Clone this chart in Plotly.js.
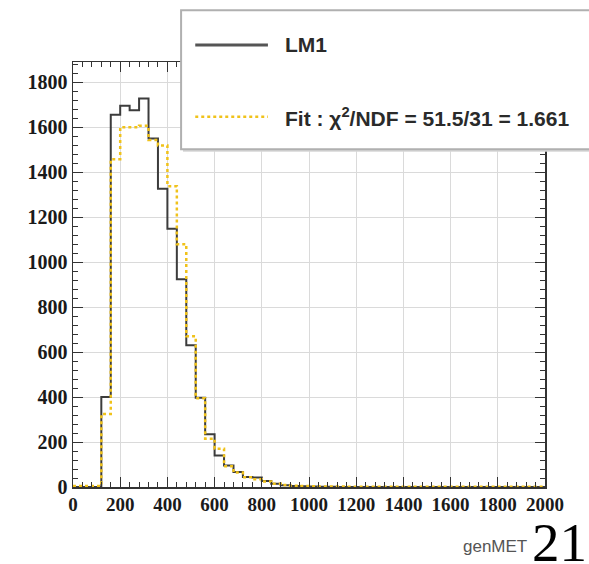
<!DOCTYPE html>
<html>
<head>
<meta charset="utf-8">
<script src="https://cdn.plot.ly/plotly-3.0.1.min.js"></script>
<style>html,body{margin:0;padding:0;background:#fff;}#chart{width:589px;height:564px;}</style>
</head>
<body>
<div id="chart"></div>
<script>
// Bin edges of the genMET histogram (GeV), 50 bins of width 40
const binEdges = [0,40,80,120,160,200,240,280,320,360,400,440,480,520,560,600,640,680,720,760,
  800,840,880,920,960,1000,1040,1080,1120,1160,1200,1240,1280,1320,1360,1400,1440,1480,1520,1560,
  1600,1640,1680,1720,1760,1800,1840,1880,1920,1960,2000];
// LM1 histogram contents per bin
const lm1Counts = [0,0,0,400,1655,1695,1675,1728,1550,1326,1148,924,630,397,235,140,96,67,45,42,
  27,15,8,5,3,2,1,1,0,0,0,0,0,0,0,0,0,0,0,0,0,0,0,0,0,0,0,0,0,0];
// Fit contents per bin
const fitCounts = [5,5,5,325,1458,1600,1600,1607,1543,1519,1338,1080,670,395,215,170,92,64,43,35,
  25,15,9,6,4,3,2,2,2,1,1,1,1,1,1,1,1,1,1,1,1,1,1,1,1,1,1,1,1,1];
const xTicks = [0,200,400,600,800,1000,1200,1400,1600,1800,2000];
const yTicks = [0,200,400,600,800,1000,1200,1400,1600,1800];
const legendLabels = ["LM1", "Fit : \u03C7<sup>2</sup>/NDF = 51.5/31 = 1.661"];
const xTitle = "genMET";
const pageNumber = "21";

function stepY(counts){ return counts.concat([counts[counts.length-1]]); }

const traces = [
  {x: binEdges, y: stepY(lm1Counts), type: 'scatter', mode: 'lines', name: legendLabels[0],
   line: {shape: 'hv', color: '#3c3c3c', width: 2}, showlegend: false, cliponaxis: true},
  {x: binEdges, y: stepY(fitCounts), type: 'scatter', mode: 'lines', name: 'Fit',
   line: {shape: 'hv', color: '#f0c21a', width: 2.5, dash: 'dot'}, showlegend: false, cliponaxis: true}
];

const tickFontX = {family: '"Liberation Serif", "Times New Roman", serif', size: 19, color: '#1a1a1a', weight: 'bold'};
const tickFontY = {family: '"Liberation Serif", "Times New Roman", serif', size: 20, color: '#1a1a1a', weight: 'bold'};
const axisCommon = {
  showline: true, linecolor: '#333', linewidth: 1.5, mirror: 'allticks',
  ticks: 'inside', ticklen: 10, tickcolor: '#333', tickwidth: 1,
  showgrid: true, gridcolor: '#dadada', gridwidth: 1, zeroline: false,
  minor: {dtick: 40, ticks: 'inside', ticklen: 5, tickcolor: '#333', showgrid: false}
};

// legend box geometry in paper coords
const legBox = {x0: 0.229, x1: 1.12, y0: 0.795, y1: 1.122};
const legRows = [1.04, 0.871];
const legFont = {family: '"Liberation Sans", Arial, sans-serif', size: 21, color: '#2a2a2a'};

const layout = {
  width: 589, height: 564,
  margin: {l: 73, r: 44, t: 62, b: 77},
  paper_bgcolor: '#fff', plot_bgcolor: '#fff',
  showlegend: false,
  xaxis: Object.assign({}, axisCommon, {range: [0, 2000], tickvals: xTicks, ticktext: xTicks.map(String), tickfont: tickFontX}),
  yaxis: Object.assign({}, axisCommon, {range: [0, 1890], tickvals: yTicks, ticktext: yTicks.map(String), tickfont: tickFontY}),
  shapes: [
    {type: 'rect', xref: 'paper', yref: 'paper', x0: legBox.x0+0.004, x1: legBox.x1, y0: legBox.y0-0.006, y1: legBox.y1-0.006,
     fillcolor: '#d6d6d6', line: {width: 0}, layer: 'above'},
    {type: 'rect', xref: 'paper', yref: 'paper', x0: legBox.x0, x1: legBox.x1, y0: legBox.y0, y1: legBox.y1,
     fillcolor: '#ffffff', line: {color: '#b0b0b0', width: 2}, layer: 'above'},
    {type: 'line', xref: 'paper', yref: 'paper', x0: 0.259, x1: 0.413, y0: legRows[0], y1: legRows[0],
     line: {color: '#555', width: 3}, layer: 'above'},
    {type: 'line', xref: 'paper', yref: 'paper', x0: 0.259, x1: 0.413, y0: legRows[1], y1: legRows[1],
     line: {color: '#f0c21a', width: 2.5, dash: 'dot'}, layer: 'above'}
  ],
  annotations: [
    {xref: 'paper', yref: 'paper', x: 0.445, y: legRows[0], xanchor: 'left', yanchor: 'middle', showarrow: false,
     text: '<b>' + legendLabels[0] + '</b>', font: legFont},
    {xref: 'paper', yref: 'paper', x: 0.445, y: legRows[1], xanchor: 'left', yanchor: 'middle', showarrow: false,
     text: '<b>' + legendLabels[1] + '</b>', font: legFont},
    {xref: 'paper', yref: 'paper', x: 0.966, y: -0.112, xanchor: 'right', yanchor: 'top', showarrow: false,
     text: xTitle, font: {family: '"Liberation Sans", Arial, sans-serif', size: 17, color: '#555'}},
    {xref: 'paper', yref: 'paper', x: 1.03, y: -0.055, xanchor: 'center', yanchor: 'top', showarrow: false,
     text: pageNumber, font: {family: '"Liberation Serif", "Times New Roman", serif', size: 55, color: '#000'}}
  ]
};

Plotly.newPlot('chart', traces, layout, {displayModeBar: false, staticPlot: true});
</script>
</body>
</html>
